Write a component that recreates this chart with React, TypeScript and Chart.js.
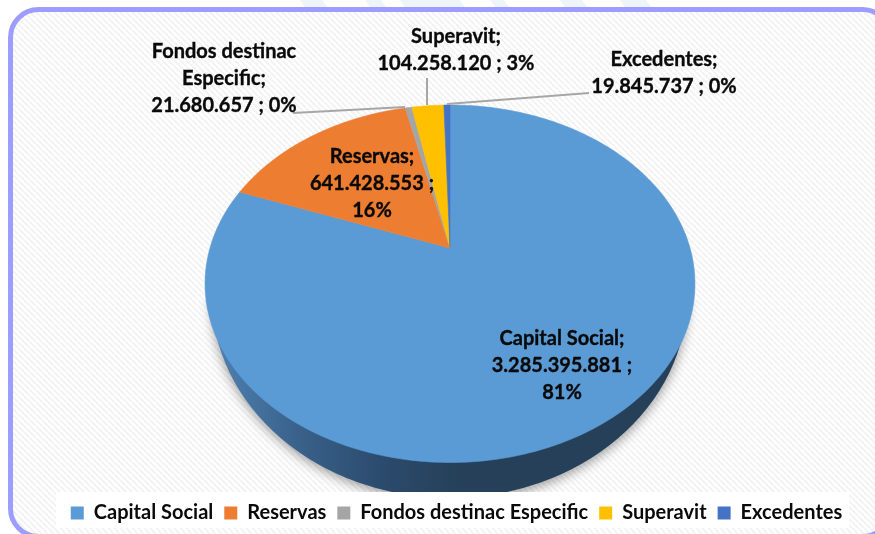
import React, { useEffect, useRef } from "react";
import { Chart, registerables } from "chart.js";

Chart.register(...registerables);

const categories = ["Capital Social", "Reservas", "Fondos destinac Especific", "Superavit", "Excedentes"];
const values = [3285395881, 641428553, 21680657, 104258120, 19845737];
const percentLabels = ["81%", "16%", "0%", "3%", "0%"];
const sliceColors = ["#5b9bd5", "#ed7d31", "#a5a5a5", "#ffc000", "#4472c4"];

const FONT = "Lato, 'Open Sans', sans-serif";
const fmt = (v: number) => String(v).replace(/\B(?=(\d{3})+$)/g, ".");

const labelLines = [
  [categories[0] + ";", fmt(values[0]) + " ;", percentLabels[0]],
  [categories[1] + ";", fmt(values[1]) + " ;", percentLabels[1]],
  ["Fondos destinac", "Especific;", fmt(values[2]) + " ; " + percentLabels[2]],
  [categories[3] + ";", fmt(values[3]) + " ; " + percentLabels[3]],
  [categories[4] + ";", fmt(values[4]) + " ; " + percentLabels[4]],
];

// Layout of the drawing (not data)
const labelAnchors = [
  { x: 562, y: 339 },
  { x: 372, y: 157 },
  { x: 224, y: 52 },
  { x: 456, y: 37 },
  { x: 664, y: 60 },
];
const LINE_H = 27;
const leaders = [
  [293, 113, 405, 107],
  [427, 78, 427, 105],
  [589, 93, 447, 104],
];
const apex = { x: 450, y: 248 };
const persp = { R: 240, S: 171.6, p: -0.2 };
const base = { cx: 449.5, cy: 295, rx: 238, ry: 203 };

function project(theta: number) {
  const u = Math.sin(theta);
  const v = -Math.cos(theta);
  const w = 1 + persp.p * v;
  return { x: apex.x + (persp.R * u) / w, y: apex.y + (persp.S * v) / w };
}

function makeHatch(ctx: CanvasRenderingContext2D) {
  const c = document.createElement("canvas");
  c.width = 6;
  c.height = 6;
  const g = c.getContext("2d")!;
  g.fillStyle = "#ffffff";
  g.fillRect(0, 0, 6, 6);
  g.strokeStyle = "#f3f3f3";
  g.lineWidth = 2;
  for (let i = -6; i <= 12; i += 6) {
    g.beginPath();
    g.moveTo(i, 0);
    g.lineTo(i + 6, 6);
    g.stroke();
  }
  return ctx.createPattern(c, "repeat")!;
}

const frontPlugin = {
  id: "frame",
  beforeDraw(chart: any) {
    const ctx: CanvasRenderingContext2D = chart.ctx;
    ctx.save();
    ctx.fillStyle = "#ffffff";
    ctx.fillRect(0, 0, chart.width, chart.height);
    // very faint slanted watermark visible above the frame
    ctx.fillStyle = "#eef4fb";
    [[300, 22], [365, 16], [400, 60], [490, 14], [560, 22], [620, 26]].forEach(([x, w]) => {
      ctx.beginPath();
      ctx.moveTo(x, 0);
      ctx.lineTo(x + w, 0);
      ctx.lineTo(x + w + 5, 7);
      ctx.lineTo(x + 5, 7);
      ctx.closePath();
      ctx.fill();
    });
    ctx.beginPath();
    ctx.roundRect(10.5, 9.5, 880, 527, 28);
    ctx.fillStyle = makeHatch(ctx);
    ctx.fill();
    ctx.lineWidth = 5;
    ctx.strokeStyle = "#9d9dff";
    ctx.stroke();
    ctx.restore();
  },
};

const piePlugin = {
  id: "perspectivePie",
  beforeDatasetDraw(chart: any, args: any) {
    const ctx: CanvasRenderingContext2D = chart.ctx;
    const arcs = args.meta.data;
    ctx.save();
    // Wall of the pie: only below the top face's widest part, cut off by the legend panel
    ctx.beginPath();
    ctx.rect(0, 300, chart.width, 192);
    ctx.clip();
    const grad = ctx.createLinearGradient(base.cx - base.rx, 0, base.cx + 10, 0);
    grad.addColorStop(0, "#4f82b3");
    grad.addColorStop(0.35, "#39618a");
    grad.addColorStop(0.7, "#2b4a6c");
    grad.addColorStop(1, "#254058");
    ctx.save();
    ctx.shadowColor = "rgba(0,0,0,0.4)";
    ctx.shadowBlur = 12;
    ctx.shadowOffsetY = 3;
    ctx.fillStyle = grad;
    ctx.beginPath();
    ctx.ellipse(base.cx, base.cy, base.rx, base.ry, 0, 0, Math.PI * 2);
    ctx.fill();
    ctx.restore();
    ctx.restore();
    // Top face
    ctx.save();
    arcs.forEach((arc: any, i: number) => {
      const a0 = arc.startAngle + Math.PI / 2;
      const a1 = arc.endAngle + Math.PI / 2;
      ctx.beginPath();
      ctx.moveTo(apex.x, apex.y);
      const steps = Math.max(4, Math.ceil((a1 - a0) * 60));
      for (let s = 0; s <= steps; s++) {
        const pt = project(a0 + ((a1 - a0) * s) / steps);
        ctx.lineTo(pt.x, pt.y);
      }
      ctx.closePath();
      ctx.fillStyle = sliceColors[i];
      ctx.strokeStyle = sliceColors[i];
      ctx.lineWidth = 0.6;
      ctx.fill();
      ctx.stroke();
    });
    ctx.restore();
    return false;
  },
  afterDraw(chart: any) {
    const ctx: CanvasRenderingContext2D = chart.ctx;
    ctx.save();
    ctx.strokeStyle = "#a6a6a6";
    ctx.lineWidth = 2;
    leaders.forEach(([x0, y0, x1, y1]) => {
      ctx.beginPath();
      ctx.moveTo(x0, y0);
      ctx.lineTo(x1, y1);
      ctx.stroke();
    });
    ctx.fillStyle = "#0a0a0a";
    ctx.strokeStyle = "#0a0a0a";
    ctx.lineWidth = 0.35;
    ctx.font = `bold 20px ${FONT}`;
    ctx.textAlign = "center";
    ctx.textBaseline = "middle";
    labelLines.forEach((lines, i) => {
      lines.forEach((line, j) => {
        ctx.fillText(line, labelAnchors[i].x, labelAnchors[i].y + j * LINE_H);
        ctx.strokeText(line, labelAnchors[i].x, labelAnchors[i].y + j * LINE_H);
      });
    });
    ctx.restore();
  },
};

const panelPlugin = {
  id: "legendPanel",
  beforeDraw(chart: any) {
    const ctx: CanvasRenderingContext2D = chart.ctx;
    ctx.save();
    ctx.fillStyle = "#ffffff";
    ctx.fillRect(56, 492, 793, 36);
    ctx.restore();
  },
};

export default function App() {
  const ref = useRef<HTMLCanvasElement>(null);
  useEffect(() => {
    const chart = new Chart(ref.current!, {
      type: "pie",
      data: {
        labels: categories,
        datasets: [{ data: values, backgroundColor: sliceColors, borderWidth: 0 }],
      },
      options: {
        animation: false,
        responsive: false,
        layout: { padding: { left: 38, bottom: 1 } },
        plugins: {
          tooltip: { enabled: false },
          title: { display: false },
          legend: {
            display: true,
            position: "bottom",
            labels: {
              boxWidth: 13,
              boxHeight: 13,
              padding: 11,
              color: "#0a0a0a",
              font: { family: FONT, size: 20, weight: "bold" },
            },
          },
        },
      },
      plugins: [frontPlugin, panelPlugin, piePlugin],
    } as any);
    return () => chart.destroy();
  }, []);
  return (
    <div style={{ position: "absolute", left: 0, top: 0, width: 875, height: 534, overflow: "hidden" }}>
      <canvas ref={ref} width={875} height={534} style={{ display: "block" }} />
    </div>
  );
}
